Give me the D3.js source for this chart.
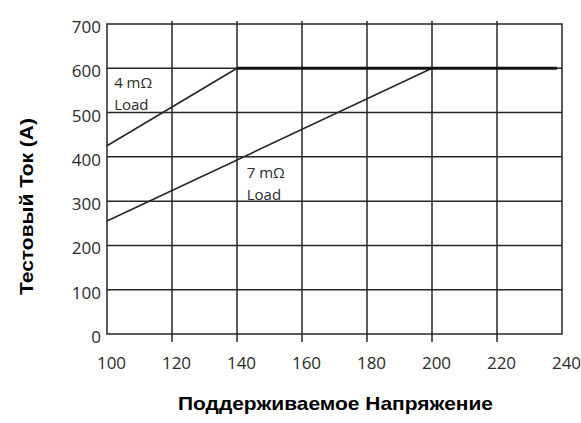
<!DOCTYPE html>
<html>
<head>
<meta charset="utf-8">
<script src="https://cdn.jsdelivr.net/npm/d3@7"></script>
<style>
body { margin: 0; background: #fff; }
svg { display: block; }
</style>
</head>
<body>
<svg id="chart"></svg>
<script>
// данные
var xTicks = [100, 120, 140, 160, 180, 200, 220, 240];
var yTicks = [0, 100, 200, 300, 400, 500, 600, 700];
var load4 = [[100, 425], [140, 600]];
var load7 = [[100, 255], [200, 600]];
var limit = [[140, 600], [238.5, 600]];
var xTitle = "Поддерживаемое Напряжение";
var yTitle = "Тестовый Ток (A)";

var size = { width: 581, height: 423 };
var margin = { top: 24, right: 19, bottom: 89, left: 107 };
var width = size.width - margin.left - margin.right;
var height = size.height - margin.top - margin.bottom;

var x = d3.scaleLinear().domain([100, 240]).range([0, width]);
var y = d3.scaleLinear().domain([0, 700]).range([height, 0]);

var svg = d3.select("#chart")
  .attr("width", size.width)
  .attr("height", size.height);

var g = svg.append("g")
  .attr("transform", "translate(" + margin.left + "," + margin.top + ")");

var ink = "#262626";

// сетка
g.selectAll(".vgrid")
  .data(xTicks.slice(1, -1))
  .enter().append("line")
  .attr("x1", function(d){ return x(d); })
  .attr("x2", function(d){ return x(d); })
  .attr("y1", -3)
  .attr("y2", height + 8)
  .attr("stroke", ink)
  .attr("stroke-width", 1.5);

g.selectAll(".hgrid")
  .data(yTicks.slice(1, -1))
  .enter().append("line")
  .attr("x1", 0)
  .attr("x2", width)
  .attr("y1", function(d){ return y(d); })
  .attr("y2", function(d){ return y(d); })
  .attr("stroke", ink)
  .attr("stroke-width", 1.5);

g.append("rect")
  .attr("width", width)
  .attr("height", height)
  .attr("fill", "none")
  .attr("stroke", ink)
  .attr("stroke-width", 1.5);

// оси (только подписи)
var xAxis = d3.axisBottom(x).tickValues(xTicks).tickSize(0).tickPadding(23);
var yAxis = d3.axisLeft(y).tickValues(yTicks).tickSize(0).tickPadding(6);

g.append("g").attr("transform", "translate(4," + height + ")").call(xAxis)
  .call(function(s){ s.select(".domain").remove(); });
g.append("g").attr("transform", "translate(0,3)").call(yAxis)
  .call(function(s){ s.select(".domain").remove(); });

g.selectAll(".tick text")
  .attr("font-family", "'Open Sans', 'Noto Sans', sans-serif")
  .attr("font-size", 17)
  .attr("fill", "#2a2a2a");

// линии
var line = d3.line()
  .x(function(d){ return x(d[0]); })
  .y(function(d){ return y(d[1]); });

g.append("path").datum(load4).attr("d", line)
  .attr("fill", "none").attr("stroke", ink).attr("stroke-width", 1.6);
g.append("path").datum(load7).attr("d", line)
  .attr("fill", "none").attr("stroke", ink).attr("stroke-width", 1.6);
g.append("path").datum(limit).attr("d", line)
  .attr("fill", "none").attr("stroke", "#111").attr("stroke-width", 3);

// подписи нагрузок
function loadLabel(px, py, t1) {
  var t = g.append("text")
    .attr("x", x(px)).attr("y", y(py))
    .attr("font-family", "'Open Sans', 'Noto Sans', sans-serif")
    .attr("font-size", 15)
    .attr("fill", "#2a2a2a");
  t.append("tspan").attr("x", x(px)).text(t1);
  t.append("tspan").attr("x", x(px)).attr("dy", 22).text("Load");
}
loadLabel(102.2, 555, "4 mΩ");
loadLabel(143, 352, "7 mΩ");

// заголовки осей
svg.append("text")
  .attr("x", 178).attr("y", 410)
  .attr("font-family", "'Liberation Sans', Arial, sans-serif")
  .attr("font-weight", "bold")
  .attr("font-size", 18.5)
  .attr("textLength", 315)
  .attr("lengthAdjust", "spacingAndGlyphs")
  .attr("fill", "#000")
  .text(xTitle);

svg.append("text")
  .attr("transform", "translate(33,295) rotate(-90)")
  .attr("font-family", "'Liberation Sans', Arial, sans-serif")
  .attr("font-weight", "bold")
  .attr("font-size", 18.5)
  .attr("textLength", 177)
  .attr("lengthAdjust", "spacingAndGlyphs")
  .attr("fill", "#000")
  .text(yTitle);
</script>
</body>
</html>
